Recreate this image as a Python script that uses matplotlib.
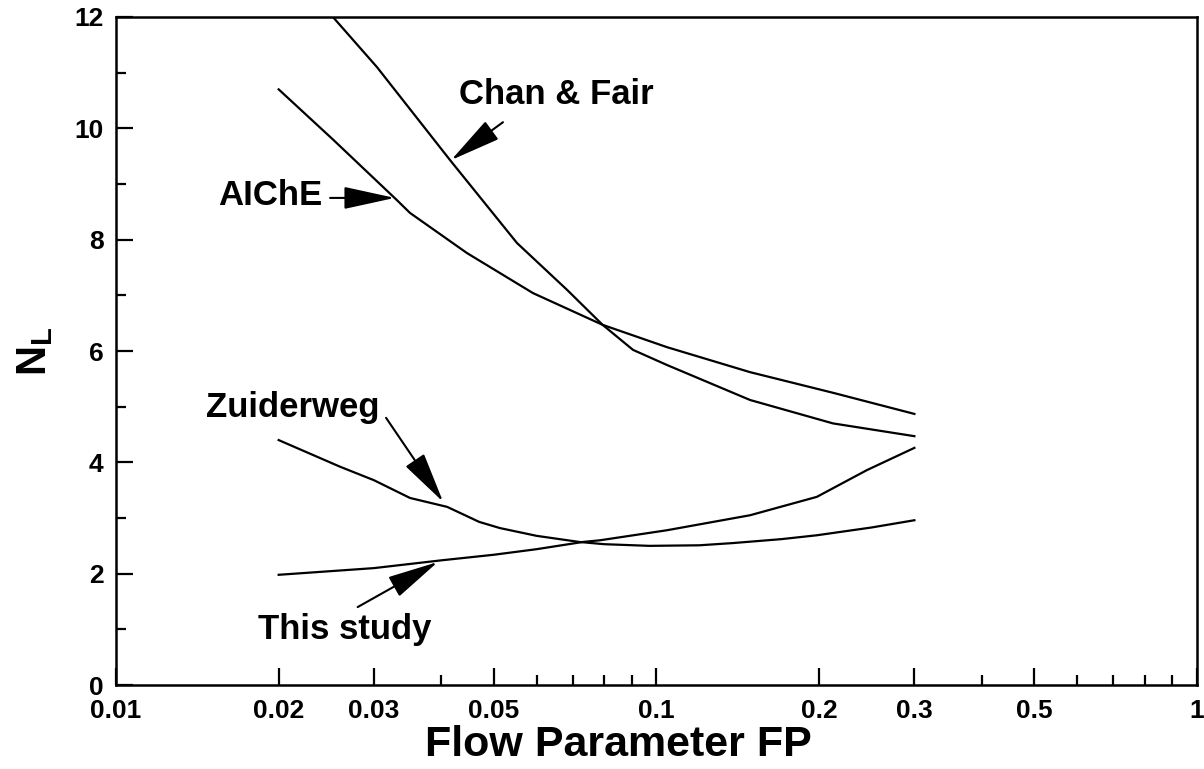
import matplotlib
matplotlib.use("Agg")
import matplotlib.pyplot as plt
from matplotlib.ticker import FixedLocator, FixedFormatter, NullFormatter

plt.rcParams['font.family'] = ['Liberation Sans', 'DejaVu Sans']
plt.rcParams['font.weight'] = 'bold'
plt.rcParams['mathtext.fontset'] = 'custom'
plt.rcParams['mathtext.bf'] = 'Liberation Sans:bold'
plt.rcParams['mathtext.rm'] = 'Liberation Sans:bold'

# curve readings, flow parameter vs N_L
chan_fp = [0.0252, 0.0304, 0.0415, 0.0552, 0.0683, 0.0795, 0.0905, 0.1045, 0.149, 0.212, 0.3]
chan_nl = [12.0, 11.1, 9.43, 7.94, 7.1, 6.47, 6.02, 5.75, 5.12, 4.7, 4.47]

aiche_fp = [0.02, 0.0252, 0.0331, 0.035, 0.0446, 0.0591, 0.0795, 0.1045, 0.149, 0.212, 0.3]
aiche_nl = [10.7, 9.8, 8.71, 8.48, 7.76, 7.04, 6.47, 6.07, 5.62, 5.25, 4.87]

zuid_fp = [0.02, 0.026, 0.03, 0.035, 0.041, 0.047, 0.0513, 0.06, 0.072, 0.08, 0.097,
           0.12, 0.1385, 0.17, 0.198, 0.25, 0.3]
zuid_nl = [4.40, 3.92, 3.68, 3.36, 3.20, 2.93, 2.82, 2.68, 2.57, 2.53, 2.50,
           2.51, 2.55, 2.62, 2.69, 2.83, 2.96]

study_fp = [0.02, 0.03, 0.04, 0.05, 0.06, 0.0731, 0.0786, 0.1045, 0.149, 0.198, 0.245, 0.3]
study_nl = [1.98, 2.1, 2.24, 2.34, 2.44, 2.57, 2.60, 2.78, 3.05, 3.38, 3.86, 4.26]

x_major = [0.01, 0.02, 0.03, 0.05, 0.1, 0.2, 0.3, 0.5, 1]
x_labels = ['0.01', '0.02', '0.03', '0.05', '0.1', '0.2', '0.3', '0.5', '1']
x_minor = [0.04, 0.06, 0.07, 0.08, 0.09, 0.4, 0.6, 0.7, 0.8, 0.9]

fig = plt.figure(figsize=(12.04, 7.69), dpi=100)
ax = fig.add_axes([0.0963, 0.1092, 0.8979, 0.8687])

for fp, nl in [(chan_fp, chan_nl), (aiche_fp, aiche_nl), (zuid_fp, zuid_nl), (study_fp, study_nl)]:
    ax.plot(fp, nl, color='black', lw=1.6, clip_on=True)

ax.set_xscale('log')
ax.set_xlim(0.01, 1)
ax.set_ylim(0, 12)

ax.xaxis.set_major_locator(FixedLocator(x_major))
ax.xaxis.set_major_formatter(FixedFormatter(x_labels))
ax.xaxis.set_minor_locator(FixedLocator(x_minor))
ax.xaxis.set_minor_formatter(NullFormatter())
ax.set_yticks(range(0, 13, 2))
ax.set_yticks(range(1, 12, 2), minor=True)

ax.tick_params(which='both', direction='in', top=False, right=False, width=1.6,
               labelsize=19)
ax.tick_params(which='major', length=12)
ax.tick_params(which='minor', length=7)
ax.tick_params(axis='x', pad=10)
ax.tick_params(axis='y', pad=9)
for s in ax.spines.values():
    s.set_linewidth(1.8)

ax.set_xlabel('Flow Parameter FP', fontsize=31, fontweight='bold', va='center')
ax.xaxis.set_label_coords(0.465, -0.09)
ax.set_ylabel(r'$\mathbf{N_L}$', fontsize=30, labelpad=14)

# labels with filled arrow heads
arrow = dict(arrowstyle='-|>,head_length=3.2,head_width=0.7', color='black',
             lw=1.5, shrinkA=0, shrinkB=0)
notes = [
    ('Chan & Fair', (0.0652, 10.6), (0.052, 10.11), (0.0417, 9.43)),
    ('AIChE', (0.0193, 8.80), (0.0249, 8.75), (0.0328, 8.75)),
    ('Zuiderweg', (0.0212, 4.98), (0.0316, 4.80), (0.0403, 3.29)),
    ('This study', (0.0265, 0.99), (0.028, 1.40), (0.0394, 2.21)),
]
for label, txy, tail, tip in notes:
    ax.text(*txy, label, fontsize=25, fontweight='bold', ha='center', va='center')
    ax.annotate('', xy=tip, xytext=tail, arrowprops=arrow)

fig.savefig('out.png', dpi=100)
